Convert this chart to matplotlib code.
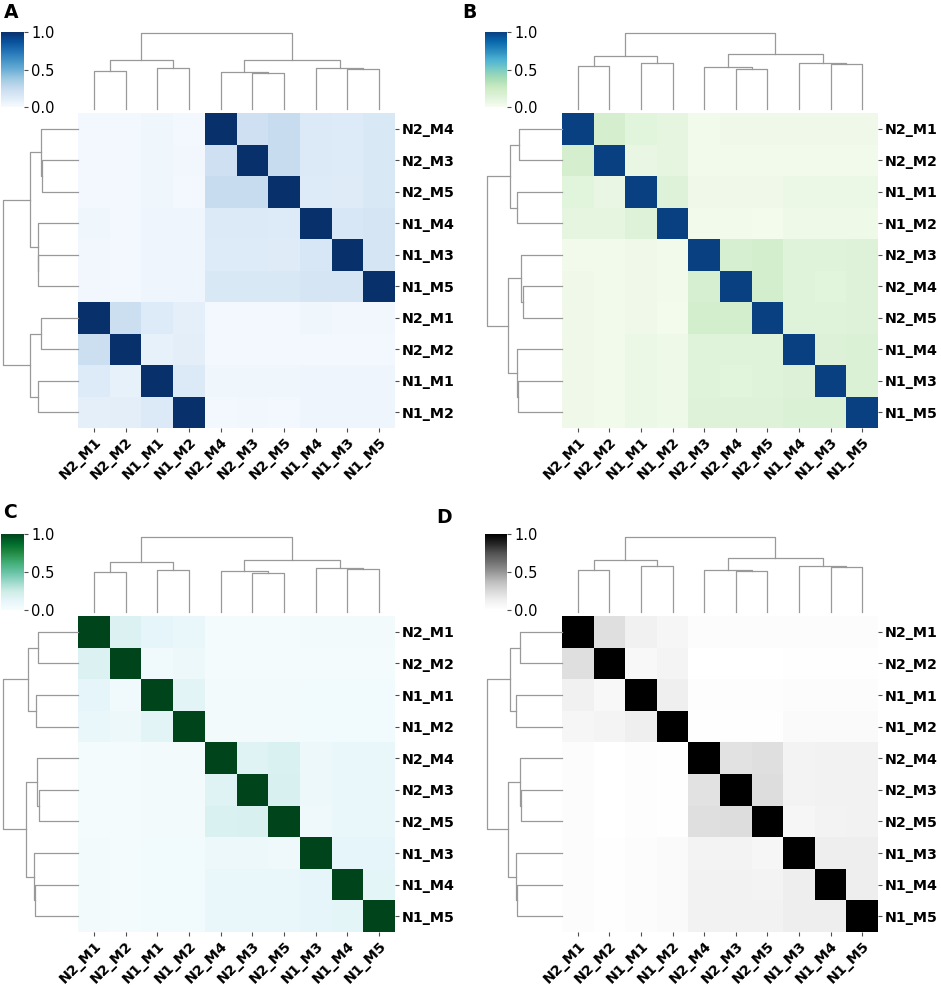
import matplotlib
matplotlib.use("Agg")
import matplotlib.pyplot as plt
import numpy as np

W, H = 941, 985

LABELS = ["N1_M1", "N1_M2", "N1_M3", "N1_M4", "N1_M5",
          "N2_M1", "N2_M2", "N2_M3", "N2_M4", "N2_M5"]

# similarity matrices, rows/cols in LABELS order
SIM_A = [
    [1.00, 0.14, 0.05, 0.05, 0.05, 0.13, 0.08, 0.04, 0.04, 0.04],
    [0.14, 1.00, 0.05, 0.05, 0.05, 0.09, 0.10, 0.03, 0.02, 0.02],
    [0.05, 0.05, 1.00, 0.16, 0.17, 0.03, 0.02, 0.13, 0.13, 0.12],
    [0.05, 0.05, 0.16, 1.00, 0.17, 0.04, 0.02, 0.14, 0.14, 0.13],
    [0.05, 0.05, 0.17, 0.17, 1.00, 0.03, 0.02, 0.15, 0.15, 0.15],
    [0.13, 0.09, 0.03, 0.04, 0.03, 1.00, 0.22, 0.02, 0.02, 0.02],
    [0.08, 0.10, 0.02, 0.02, 0.02, 0.22, 1.00, 0.02, 0.02, 0.02],
    [0.04, 0.03, 0.13, 0.14, 0.15, 0.02, 0.02, 1.00, 0.21, 0.24],
    [0.04, 0.02, 0.13, 0.14, 0.15, 0.02, 0.02, 0.21, 1.00, 0.24],
    [0.04, 0.02, 0.12, 0.13, 0.15, 0.02, 0.02, 0.24, 0.24, 1.00],
]
SIM_B = [
    [1.00, 0.14, 0.06, 0.06, 0.06, 0.12, 0.08, 0.04, 0.04, 0.04],
    [0.14, 1.00, 0.05, 0.05, 0.05, 0.10, 0.10, 0.03, 0.03, 0.02],
    [0.06, 0.05, 1.00, 0.15, 0.16, 0.04, 0.03, 0.13, 0.12, 0.13],
    [0.06, 0.05, 0.15, 1.00, 0.16, 0.04, 0.03, 0.13, 0.13, 0.13],
    [0.06, 0.05, 0.16, 0.16, 1.00, 0.04, 0.03, 0.14, 0.14, 0.14],
    [0.12, 0.10, 0.04, 0.04, 0.04, 1.00, 0.20, 0.03, 0.04, 0.04],
    [0.08, 0.10, 0.03, 0.03, 0.03, 0.20, 1.00, 0.03, 0.03, 0.03],
    [0.04, 0.03, 0.13, 0.13, 0.14, 0.03, 0.03, 1.00, 0.19, 0.21],
    [0.04, 0.03, 0.12, 0.13, 0.14, 0.04, 0.03, 0.19, 1.00, 0.21],
    [0.04, 0.02, 0.13, 0.13, 0.14, 0.04, 0.03, 0.21, 0.21, 1.00],
]
SIM_C = [
    [1.00, 0.14, 0.04, 0.04, 0.04, 0.12, 0.05, 0.03, 0.03, 0.03],
    [0.14, 1.00, 0.04, 0.04, 0.04, 0.09, 0.08, 0.03, 0.03, 0.03],
    [0.04, 0.04, 1.00, 0.12, 0.12, 0.03, 0.02, 0.08, 0.07, 0.06],
    [0.04, 0.04, 0.12, 1.00, 0.13, 0.03, 0.02, 0.09, 0.09, 0.09],
    [0.04, 0.04, 0.12, 0.13, 1.00, 0.03, 0.02, 0.10, 0.09, 0.10],
    [0.12, 0.09, 0.03, 0.03, 0.03, 1.00, 0.17, 0.02, 0.02, 0.02],
    [0.05, 0.08, 0.02, 0.02, 0.02, 0.17, 1.00, 0.02, 0.02, 0.02],
    [0.03, 0.03, 0.08, 0.09, 0.10, 0.02, 0.02, 1.00, 0.16, 0.19],
    [0.03, 0.03, 0.07, 0.09, 0.09, 0.02, 0.02, 0.16, 1.00, 0.18],
    [0.03, 0.03, 0.06, 0.09, 0.10, 0.02, 0.02, 0.19, 0.18, 1.00],
]
SIM_D = [
    [1.00, 0.13, 0.03, 0.03, 0.03, 0.12, 0.06, 0.02, 0.02, 0.02],
    [0.13, 1.00, 0.04, 0.04, 0.04, 0.08, 0.09, 0.01, 0.01, 0.01],
    [0.03, 0.04, 1.00, 0.14, 0.14, 0.03, 0.01, 0.10, 0.10, 0.08],
    [0.03, 0.04, 0.14, 1.00, 0.14, 0.03, 0.01, 0.11, 0.11, 0.10],
    [0.03, 0.04, 0.14, 0.14, 1.00, 0.03, 0.01, 0.11, 0.11, 0.11],
    [0.12, 0.08, 0.03, 0.03, 0.03, 1.00, 0.22, 0.03, 0.03, 0.03],
    [0.06, 0.09, 0.01, 0.01, 0.01, 0.22, 1.00, 0.00, 0.00, 0.00],
    [0.02, 0.01, 0.10, 0.11, 0.11, 0.03, 0.00, 1.00, 0.20, 0.23],
    [0.02, 0.01, 0.10, 0.11, 0.11, 0.03, 0.00, 0.20, 1.00, 0.22],
    [0.02, 0.01, 0.08, 0.10, 0.11, 0.03, 0.00, 0.23, 0.22, 1.00],
]

# display orders
ROWS_A = ["N2_M4", "N2_M3", "N2_M5", "N1_M4", "N1_M3", "N1_M5", "N2_M1", "N2_M2", "N1_M1", "N1_M2"]
COLS_A = ["N2_M1", "N2_M2", "N1_M1", "N1_M2", "N2_M4", "N2_M3", "N2_M5", "N1_M4", "N1_M3", "N1_M5"]
ROWS_B = ["N2_M1", "N2_M2", "N1_M1", "N1_M2", "N2_M3", "N2_M4", "N2_M5", "N1_M4", "N1_M3", "N1_M5"]
COLS_B = ROWS_B
ROWS_C = ["N2_M1", "N2_M2", "N1_M1", "N1_M2", "N2_M4", "N2_M3", "N2_M5", "N1_M3", "N1_M4", "N1_M5"]
COLS_C = ROWS_C
ROWS_D = ROWS_C
COLS_D = ROWS_C

# linkage trees: (left, right, height)
TREE_A = ((("N2_M1", "N2_M2", 113), ("N1_M1", "N1_M2", 123), 146),
          (("N2_M4", ("N2_M3", "N2_M5", 108), 112),
           ("N1_M4", ("N1_M3", "N1_M5", 121), 122), 146), 228)
TREE_B = ((("N2_M1", "N2_M2", 130), ("N1_M1", "N1_M2", 138), 158),
          (("N2_M3", ("N2_M4", "N2_M5", 120), 125),
           ("N1_M4", ("N1_M3", "N1_M5", 135), 137), 165), 228)
TREE_C = ((("N2_M1", "N2_M2", 120), ("N1_M1", "N1_M2", 127), 150),
          (("N2_M4", ("N2_M3", "N2_M5", 117), 122),
           ("N1_M3", ("N1_M4", "N1_M5", 130), 131), 157), 225)
TREE_D = ((("N2_M1", "N2_M2", 127), ("N1_M1", "N1_M2", 137), 155),
          (("N2_M4", ("N2_M3", "N2_M5", 123), 125),
           ("N1_M3", ("N1_M4", "N1_M5", 135), 137), 162), 225)

CMAPS = ["Blues", "GnBu", "BuGn", "Greys"]
LETTERS = ["A", "B", "C", "D"]

# pixel layout per panel: heatmap box, row dendrogram left edge, colorbar box, letter pos
LAYOUT = [
    dict(heat=(78, 113, 395, 428), col_top=33, row_left=3, cbar=(1, 32, 24, 107), letter=(4, 3)),
    dict(heat=(562, 113, 878, 428), col_top=33, row_left=487, cbar=(485, 32, 507, 107), letter=(462, 3)),
    dict(heat=(78, 616, 395, 932), col_top=537, row_left=3, cbar=(1, 534, 24, 610), letter=(3, 503)),
    dict(heat=(562, 616, 878, 932), col_top=537, row_left=487, cbar=(485, 534, 507, 610), letter=(436, 508)),
]

LINE_COLOR = "0.6"
LABEL_SIZE = 10.3


def rect(x0, y0, x1, y1):
    return [x0 / W, 1 - y1 / H, (x1 - x0) / W, (y1 - y0) / H]


def draw_tree(ax, node, pos, orient):
    if isinstance(node, str):
        return pos[node], 0.0
    left, right, height = node
    xa, ha = draw_tree(ax, left, pos, orient)
    xb, hb = draw_tree(ax, right, pos, orient)
    xs = [xa, xa, xb, xb]
    hs = [ha, height, height, hb]
    if orient == "top":
        ax.plot(xs, hs, color=LINE_COLOR, lw=0.9, clip_on=False)
    else:
        ax.plot(hs, xs, color=LINE_COLOR, lw=0.9, clip_on=False)
    return (xa + xb) / 2, height


def clean(ax):
    ax.set_xticks([])
    ax.set_yticks([])
    for spine in ax.spines.values():
        spine.set_visible(False)
    ax.patch.set_alpha(0)


fig = plt.figure(figsize=(W / 100, H / 100), dpi=100)

panels = zip([SIM_A, SIM_B, SIM_C, SIM_D], [ROWS_A, ROWS_B, ROWS_C, ROWS_D],
             [COLS_A, COLS_B, COLS_C, COLS_D], [TREE_A, TREE_B, TREE_C, TREE_D],
             CMAPS, LETTERS, LAYOUT)

for sim, rows, cols, tree, cmap, letter, lay in panels:
    sim = np.array(sim)
    r_idx = [LABELS.index(r) for r in rows]
    c_idx = [LABELS.index(c) for c in cols]
    data = sim[np.ix_(r_idx, c_idx)]
    x0, y0, x1, y1 = lay["heat"]

    ax = fig.add_axes(rect(x0, y0, x1, y1))
    mesh = ax.pcolormesh(np.arange(11), np.arange(11), data, cmap=cmap, vmin=0, vmax=1)
    ax.set_xlim(0, 10)
    ax.set_ylim(10, 0)
    ax.set_xticks(np.arange(10) + 0.5)
    ax.set_xticklabels(cols, rotation=45, ha="right", rotation_mode="anchor",
                       fontsize=LABEL_SIZE, fontweight="bold")
    ax.set_yticks(np.arange(10) + 0.5)
    ax.set_yticklabels(rows, fontsize=LABEL_SIZE, fontweight="bold")
    ax.yaxis.tick_right()
    ax.tick_params(length=3, width=0.8, color="0.3", pad=2)
    for spine in ax.spines.values():
        spine.set_visible(False)

    # column dendrogram
    cax_d = fig.add_axes(rect(x0, lay["col_top"], x1, y0 - 4))
    draw_tree(cax_d, tree, {c: i + 0.5 for i, c in enumerate(cols)}, "top")
    cax_d.set_xlim(0, 10)
    cax_d.set_ylim(0, tree[2])
    clean(cax_d)

    # row dendrogram
    rax = fig.add_axes(rect(lay["row_left"], y0, x0, y1))
    draw_tree(rax, tree, {r: i + 0.5 for i, r in enumerate(rows)}, "left")
    rax.set_ylim(10, 0)
    rax.set_xlim(tree[2], 0)
    clean(rax)

    # colorbar
    cb_ax = fig.add_axes(rect(*lay["cbar"]))
    cbar = fig.colorbar(mesh, cax=cb_ax, ticks=[0, 0.5, 1])
    cbar.outline.set_visible(False)
    cbar.ax.set_yticklabels(["0.0", "0.5", "1.0"])
    cbar.ax.tick_params(labelsize=10.5, length=3, width=0.8, color="0.3", pad=2)

    lx, ly = lay["letter"]
    fig.text(lx / W, 1 - ly / H, letter, fontsize=13.5, fontweight="bold", va="top", ha="left")

fig.savefig("out.png", dpi=100)
